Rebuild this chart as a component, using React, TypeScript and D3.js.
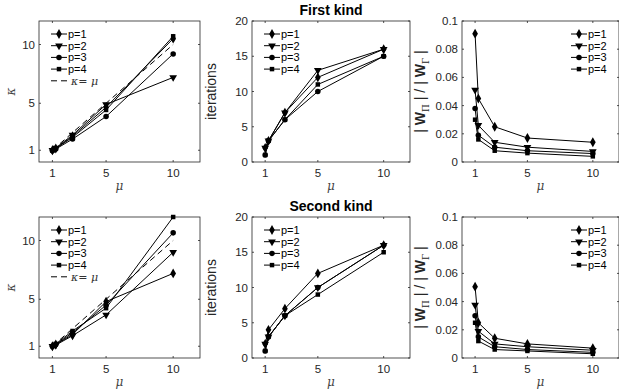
import { useEffect, useRef } from 'react';
import * as d3 from 'd3';

// shared x values (mu)
const mu = [1, 1.25, 2.5, 5, 10];
const seriesNames = ['p=1', 'p=2', 'p=3', 'p=4'];

// condition numbers
const kappaFirst = [
  [1.0, 1.15, 2.2, 4.66, 10.5],
  [1.0, 1.2, 2.3, 4.9, 7.2],
  [0.95, 1.1, 1.95, 3.87, 9.2],
  [1.0, 1.15, 2.1, 4.43, 10.7],
];
const kappaSecond = [
  [1.0, 1.15, 2.0, 4.8, 7.2],
  [1.0, 1.1, 1.9, 3.67, 9.0],
  [1.0, 1.15, 2.15, 4.5, 10.65],
  [1.0, 1.2, 2.3, 4.24, 12.0],
];

// iteration counts
const iterFirst = [
  [2, 3, 7, 12, 16],
  [2, 3, 7, 13, 16],
  [1, 3, 6, 10, 15],
  [1, 3, 6, 11, 15],
];
const iterSecond = [
  [2, 4, 7, 12, 16],
  [2, 3, 6, 10, 16],
  [1, 3, 6, 10, 16],
  [1, 3, 6, 9, 15],
];

// |W_Pi| / |W_Gamma|
const ratioFirst = [
  [0.091, 0.045, 0.025, 0.017, 0.014],
  [0.051, 0.026, 0.014, 0.0105, 0.0075],
  [0.038, 0.019, 0.0105, 0.008, 0.006],
  [0.03, 0.016, 0.008, 0.0063, 0.004],
];
const ratioSecond = [
  [0.0506, 0.025, 0.014, 0.01, 0.007],
  [0.0376, 0.019, 0.01, 0.008, 0.0055],
  [0.03, 0.015, 0.008, 0.006, 0.004],
  [0.025, 0.012, 0.006, 0.005, 0.003],
];

const xTicks = [1, 5, 10];
const kappaTicks = [1, 5, 10];
const iterTicks = [0, 5, 10, 15, 20];
const ratioTicks = [0, 0.02, 0.04, 0.06, 0.08, 0.1];

const FONT = '"Liberation Sans", Arial, Helvetica, sans-serif';
const INK = '#262626';

const symbols = [d3.symbolDiamond, d3.symbolTriangle, d3.symbolCircle, d3.symbolSquare];
const symSizes = [28, 26, 24, 20];

type Panel = {
  x0: number; x1: number; y0: number; y1: number;
  data: number[][];
  yDomain: [number, number];
  yTicks: number[];
  yFmt: (v: number) => string;
  legend: 'left' | 'right';
  kappa?: boolean;
  ylabel: string;
  title?: string;
};

export default function App() {
  const svgRef = useRef<SVGSVGElement>(null);

  useEffect(() => {
    const svg = d3.select(svgRef.current);
    svg.selectAll('*').remove();

    const cols = [
      { x0: 39, x1: 200 },
      { x0: 252, x1: 410 },
      { x0: 462, x1: 619 },
    ];
    const rows = [
      { y0: 21, y1: 162, title: 'First kind', k: kappaFirst, it: iterFirst, r: ratioFirst },
      { y0: 217, y1: 358, title: 'Second kind', k: kappaSecond, it: iterSecond, r: ratioSecond },
    ];

    const panels: Panel[] = [];
    rows.forEach(row => {
      panels.push({ ...cols[0], y0: row.y0, y1: row.y1, data: row.k, yDomain: [0, 12], yTicks: kappaTicks, yFmt: d => `${d}`, legend: 'left', kappa: true, ylabel: 'kappa' });
      panels.push({ ...cols[1], y0: row.y0, y1: row.y1, data: row.it, yDomain: [0, 20], yTicks: iterTicks, yFmt: d => `${d}`, legend: 'left', ylabel: 'iterations', title: row.title });
      panels.push({ ...cols[2], y0: row.y0, y1: row.y1, data: row.r, yDomain: [0, 0.1], yTicks: ratioTicks, yFmt: d => (d === 0 ? '0' : `${+d.toFixed(2)}`), legend: 'right', ylabel: 'ratio' });
    });

    panels.forEach(p => {
      const x = d3.scaleLinear().domain([0, 12]).range([p.x0, p.x1]);
      const y = d3.scaleLinear().domain(p.yDomain).range([p.y1, p.y0]);
      const g = svg.append('g');

      // axes box
      g.append('rect')
        .attr('x', p.x0).attr('y', p.y0)
        .attr('width', p.x1 - p.x0).attr('height', p.y1 - p.y0)
        .attr('fill', 'white').attr('stroke', INK).attr('stroke-width', 0.8);

      // ticks (inward, both sides)
      xTicks.forEach(t => {
        g.append('line').attr('x1', x(t)).attr('x2', x(t)).attr('y1', p.y1).attr('y2', p.y1 - 2).attr('stroke', INK).attr('stroke-width', 0.8);
        g.append('line').attr('x1', x(t)).attr('x2', x(t)).attr('y1', p.y0).attr('y2', p.y0 + 2).attr('stroke', INK).attr('stroke-width', 0.8);
        g.append('text').attr('x', x(t)).attr('y', p.y1 + 15)
          .attr('text-anchor', 'middle').attr('font-size', 11.5).attr('font-family', FONT).attr('fill', INK)
          .text(t);
      });
      p.yTicks.forEach(t => {
        g.append('line').attr('x1', p.x0).attr('x2', p.x0 + 2).attr('y1', y(t)).attr('y2', y(t)).attr('stroke', INK).attr('stroke-width', 0.8);
        g.append('line').attr('x1', p.x1).attr('x2', p.x1 - 2).attr('y1', y(t)).attr('y2', y(t)).attr('stroke', INK).attr('stroke-width', 0.8);
        g.append('text').attr('x', p.x0 - 4).attr('y', y(t) + 4)
          .attr('text-anchor', 'end').attr('font-size', 11.5).attr('font-family', FONT).attr('fill', INK)
          .text(p.yFmt(t));
      });

      // x label
      g.append('text').attr('x', (p.x0 + p.x1) / 2).attr('y', p.y1 + 28)
        .attr('text-anchor', 'middle').attr('font-size', 12).attr('font-style', 'italic')
        .attr('font-family', '"DejaVu Serif", serif').attr('fill', '#444').text('μ');

      // y label
      const cy = (p.y0 + p.y1) / 2;
      if (p.ylabel === 'kappa') {
        g.append('text').attr('transform', `translate(${p.x0 - 24},${cy}) rotate(-90)`)
          .attr('text-anchor', 'middle').attr('font-size', 12).attr('font-style', 'italic')
          .attr('font-family', '"DejaVu Serif", serif').attr('fill', '#444').text('κ');
      } else if (p.ylabel === 'iterations') {
        g.append('text').attr('transform', `translate(${p.x0 - 36},${cy}) rotate(-90)`)
          .attr('text-anchor', 'middle').attr('font-size', 14).attr('font-family', FONT).attr('fill', INK).text('iterations');
      } else {
        const t = g.append('text').attr('transform', `translate(${p.x0 - 37},${cy}) rotate(-90)`)
          .attr('text-anchor', 'middle').attr('font-size', 14).attr('font-family', FONT).attr('fill', INK);
        t.append('tspan').text('| ');
        t.append('tspan').attr('font-weight', 'bold').text('W');
        t.append('tspan').attr('font-size', 9).attr('dy', 4).attr('font-family', '"DejaVu Serif", serif').text('Π');
        t.append('tspan').attr('dy', -4).text(' | / | ');
        t.append('tspan').attr('font-weight', 'bold').text('W');
        t.append('tspan').attr('font-size', 9).attr('dy', 4).attr('font-family', '"DejaVu Serif", serif').text('Γ');
        t.append('tspan').attr('dy', -4).text(' |');
      }

      // title
      if (p.title) {
        g.append('text').attr('x', (p.x0 + p.x1) / 2).attr('y', p.y0 - 6)
          .attr('text-anchor', 'middle').attr('font-size', 14).attr('font-weight', 'bold')
          .attr('font-family', FONT).attr('fill', 'black').text(p.title);
      }

      // reference line kappa = mu
      if (p.kappa) {
        g.append('line').attr('x1', x(1)).attr('y1', y(1)).attr('x2', x(10)).attr('y2', y(10))
          .attr('stroke', 'black').attr('stroke-width', 1).attr('stroke-dasharray', '6,4');
      }

      const line = d3.line<number>().x((_, i) => x(mu[i])).y(d => y(d));
      p.data.forEach((s, si) => {
        g.append('path').attr('d', line(s)).attr('fill', 'none').attr('stroke', 'black').attr('stroke-width', 1);
        s.forEach((v, i) => {
          const rot = si === 1 ? ' rotate(180)' : '';
          g.append('path')
            .attr('d', d3.symbol(symbols[si], symSizes[si])())
            .attr('transform', `translate(${x(mu[i])},${y(v)})${rot}`)
            .attr('fill', 'black');
        });
      });

      // legend
      const lx = p.legend === 'left' ? p.x0 + 12 : p.x1 - 48;
      const ly = p.y0 + 13;
      const step = 11.7;
      seriesNames.forEach((name, si) => {
        const yy = ly + si * step;
        g.append('line').attr('x1', lx).attr('x2', lx + 16).attr('y1', yy).attr('y2', yy).attr('stroke', 'black').attr('stroke-width', 1);
        const rot = si === 1 ? ' rotate(180)' : '';
        g.append('path').attr('d', d3.symbol(symbols[si], symSizes[si])())
          .attr('transform', `translate(${lx + 8},${yy})${rot}`).attr('fill', 'black');
        g.append('text').attr('x', lx + 17).attr('y', yy + 4)
          .attr('font-size', 11).attr('font-family', FONT).attr('fill', 'black').text(name);
      });
      if (p.kappa) {
        const yy = ly + 4 * step;
        g.append('line').attr('x1', lx).attr('x2', lx + 16).attr('y1', yy).attr('y2', yy)
          .attr('stroke', 'black').attr('stroke-width', 1).attr('stroke-dasharray', '6,4');
        const t = g.append('text').attr('x', lx + 20).attr('y', yy + 4)
          .attr('font-size', 11).attr('font-family', '"DejaVu Serif", serif').attr('fill', '#333');
        t.append('tspan').attr('font-style', 'italic').text('κ');
        t.append('tspan').text('= ');
        t.append('tspan').attr('font-style', 'italic').text('μ');
      }
    });
  }, []);

  return (
    <svg ref={svgRef} width={619} height={389}
      style={{ position: 'absolute', left: 0, top: 0, background: 'white' }} />
  );
}
